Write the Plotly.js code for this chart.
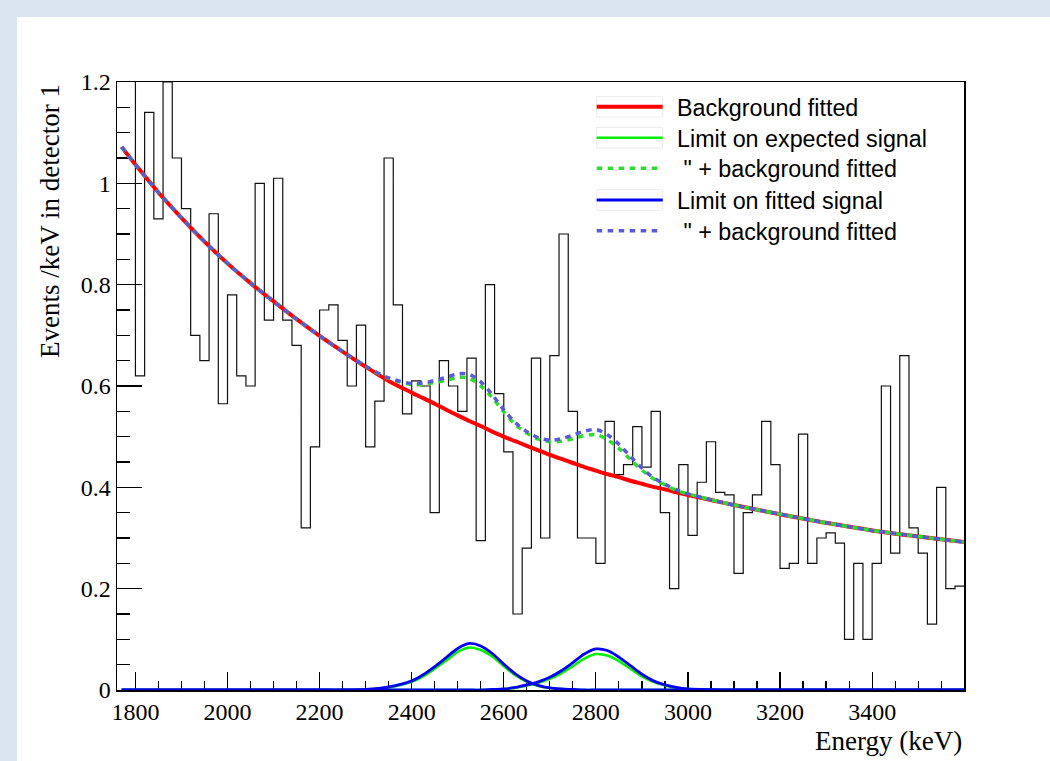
<!DOCTYPE html>
<html>
<head>
<meta charset="utf-8">
<script src="https://cdn.plot.ly/plotly-3.0.1.min.js"></script>
<style>
  html, body { margin: 0; padding: 0; width: 1050px; height: 761px; overflow: hidden; background: #dbe5f1; }
  #plot { position: absolute; left: 17px; top: 17px; width: 1033px; height: 744px; background: #ffffff; }
</style>
</head>
<body>
<div id="plot"></div>
<script>
// ---- measured spectrum: 20 keV bins starting at 1760 keV ----
const binLow = 1760;
const binWidth = 20;
const counts = [
  1.30, 1.25, 0.62, 1.14, 0.93, 1.20, 1.05, 0.95, 0.70, 0.65,
  0.94, 0.565, 0.78, 0.62, 0.60, 1.00, 0.73, 1.01, 0.73, 0.68,
  0.32, 0.48, 0.75, 0.76, 0.69, 0.60, 0.72, 0.48, 0.57, 1.05,
  0.76, 0.545, 0.61, 0.60, 0.35, 0.65, 0.60, 0.55, 0.655, 0.295,
  0.80, 0.585, 0.47, 0.15, 0.28, 0.655, 0.30, 0.66, 0.90, 0.55,
  0.30, 0.30, 0.25, 0.53, 0.425, 0.445, 0.52, 0.44, 0.55, 0.35,
  0.20, 0.445, 0.305, 0.41, 0.49, 0.39, 0.385, 0.23, 0.35, 0.385,
  0.53, 0.445, 0.24, 0.25, 0.505, 0.25, 0.30, 0.31, 0.29, 0.10,
  0.25, 0.10, 0.25, 0.60, 0.27, 0.66, 0.32, 0.27, 0.13, 0.40,
  0.20, 0.205
];

// ---- fitted curves, sampled in energy (keV) ----
const fitE = [
  1770, 1800, 1850, 1900, 1950, 2000, 2050, 2100, 2150, 2200,
  2250, 2300, 2350, 2400, 2425, 2450, 2475, 2500, 2525, 2550,
  2575, 2600, 2625, 2650, 2675, 2700, 2725, 2750, 2775, 2800,
  2825, 2850, 2875, 2900, 2925, 2950, 2975, 3000, 3050, 3100,
  3200, 3300, 3400, 3500, 3600
];
const bgFit = [
  1.072, 1.037, 0.982, 0.932, 0.885, 0.842, 0.803, 0.767, 0.732, 0.699,
  0.668, 0.638, 0.610, 0.587, 0.576, 0.565, 0.553, 0.542, 0.531, 0.521,
  0.510, 0.500, 0.491, 0.482, 0.473, 0.464, 0.456, 0.448, 0.440, 0.433,
  0.426, 0.420, 0.413, 0.407, 0.401, 0.396, 0.390, 0.385, 0.375, 0.365,
  0.347, 0.330, 0.315, 0.303, 0.292
];
// limit on expected signal, first and second peak
const expPeak1 = [
  0, 0, 0, 0, 0, 0, 0, 0, 0, 0,
  0, 0.001, 0.005, 0.016, 0.027, 0.042, 0.058, 0.075, 0.084, 0.079,
  0.066, 0.047, 0.029, 0.016, 0.008, 0.004, 0.002, 0.001, 0, 0,
  0, 0, 0, 0, 0, 0, 0, 0, 0, 0,
  0, 0, 0, 0, 0
];
const expPeak2 = [
  0, 0, 0, 0, 0, 0, 0, 0, 0, 0,
  0, 0, 0, 0, 0, 0, 0, 0, 0, 0,
  0.001, 0.002, 0.004, 0.009, 0.014, 0.022, 0.033, 0.047, 0.062, 0.071,
  0.068, 0.057, 0.042, 0.027, 0.016, 0.009, 0.004, 0.002, 0.0005, 0,
  0, 0, 0, 0, 0
];
// limit on fitted signal, first and second peak
const fitPeak1 = [
  0, 0, 0, 0, 0, 0, 0, 0, 0, 0,
  0, 0.001, 0.006, 0.018, 0.030, 0.046, 0.064, 0.082, 0.092, 0.087,
  0.072, 0.051, 0.032, 0.018, 0.009, 0.004, 0.002, 0.001, 0, 0,
  0, 0, 0, 0, 0, 0, 0, 0, 0, 0,
  0, 0, 0, 0, 0
];
const fitPeak2 = [
  0, 0, 0, 0, 0, 0, 0, 0, 0, 0,
  0, 0, 0, 0, 0, 0, 0, 0, 0, 0,
  0.001, 0.002, 0.005, 0.010, 0.016, 0.025, 0.038, 0.054, 0.071, 0.081,
  0.078, 0.065, 0.048, 0.031, 0.018, 0.010, 0.005, 0.002, 0.0005, 0,
  0, 0, 0, 0, 0
];
// expected signal + background
const expTotal = [
  1.072, 1.037, 0.982, 0.932, 0.885, 0.842, 0.803, 0.767, 0.732, 0.699,
  0.668, 0.639, 0.615, 0.603, 0.603, 0.607, 0.611, 0.617, 0.615, 0.600,
  0.577, 0.549, 0.524, 0.507, 0.495, 0.490, 0.491, 0.496, 0.502, 0.504,
  0.494, 0.477, 0.455, 0.434, 0.417, 0.405, 0.394, 0.387, 0.3755, 0.365,
  0.347, 0.330, 0.315, 0.303, 0.292
];
// fitted signal + background
const fitTotal = [
  1.072, 1.037, 0.982, 0.932, 0.885, 0.842, 0.803, 0.767, 0.732, 0.699,
  0.668, 0.639, 0.616, 0.605, 0.606, 0.611, 0.617, 0.624, 0.623, 0.608,
  0.583, 0.553, 0.528, 0.510, 0.498, 0.493, 0.496, 0.503, 0.511, 0.514,
  0.504, 0.485, 0.461, 0.438, 0.419, 0.406, 0.395, 0.387, 0.3755, 0.365,
  0.347, 0.330, 0.315, 0.303, 0.292
];

const legendLabels = [
  'Background fitted',
  'Limit on expected signal',
  '\u00a0" + background fitted',
  'Limit on fitted signal',
  '\u00a0" + background fitted'
];

// ---- styles ----
const RED = '#ff0000', GREEN = '#00f000', BLUE = '#0000ee';
const GREEN_DOT = '#2edc2e', BLUE_DOT = '#5a5ad8';
const DOTS = '5.5px,5.5px';
const legendStyles = [
  { color: RED, width: 4, dash: 'solid', boxed: true },
  { color: GREEN, width: 2.5, dash: 'solid', boxed: true },
  { color: GREEN_DOT, width: 3.5, dash: DOTS, boxed: false },
  { color: BLUE, width: 2.8, dash: 'solid', boxed: true },
  { color: BLUE_DOT, width: 3.5, dash: DOTS, boxed: false }
];

// histogram outline as a step line over the bin edges
const edges = counts.map((_, i) => binLow + i * binWidth);
edges.push(binLow + counts.length * binWidth);
const stepY = counts.concat([counts[counts.length - 1]]);

function curve(y, color, width, dash) {
  return {
    x: fitE, y: y, type: 'scatter', mode: 'lines', hoverinfo: 'skip',
    line: { color: color, width: width, dash: dash || 'solid', shape: 'spline', smoothing: 0.9 }
  };
}

const traces = [
  { x: edges, y: stepY, type: 'scatter', mode: 'lines', hoverinfo: 'skip',
    line: { color: '#111', width: 1.2, shape: 'hv' } },
  curve(bgFit, RED, 4),
  curve(expTotal, GREEN_DOT, 3.5, DOTS),
  curve(fitTotal, BLUE_DOT, 3.5, DOTS),
  curve(expPeak1, GREEN, 2.5),
  curve(expPeak2, GREEN, 2.5),
  curve(fitPeak1, BLUE, 2.8),
  curve(fitPeak2, BLUE, 2.8)
];

// ---- frame geometry (page pixels, div sits at 17,17) ----
const divX = 17, divY = 17;
const plotL = 117, plotT = 82, plotW = 847, plotH = 608;
const px = x => (x - plotL) / plotW;
const py = y => (plotT + plotH - y) / plotH;

// legend drawn with shapes + annotations
const rowY = [106.7, 137.7, 168.3, 200.0, 230.7];
const sampleX0 = 596.7, sampleX1 = 662.7, dotX1 = 658.3, textX = 674.5;
const shapes = [];
const annotations = [];
legendLabels.forEach((label, i) => {
  const s = legendStyles[i];
  if (s.boxed) {
    shapes.push({ type: 'rect', xref: 'paper', yref: 'paper',
      x0: px(sampleX0), x1: px(sampleX1), y0: py(rowY[i] - 10.3), y1: py(rowY[i] + 10.3),
      line: { color: '#ececec', width: 1 }, fillcolor: 'rgba(0,0,0,0)' });
  }
  shapes.push({ type: 'line', xref: 'paper', yref: 'paper',
    x0: px(sampleX0), x1: px(s.boxed ? sampleX1 : dotX1), y0: py(rowY[i]), y1: py(rowY[i]),
    line: { color: s.color, width: s.width, dash: s.dash } });
  annotations.push({ xref: 'paper', yref: 'paper', x: px(textX), y: py(rowY[i] + 1),
    xanchor: 'left', yanchor: 'middle', showarrow: false, text: label,
    font: { family: 'Liberation Sans, Arial, sans-serif', size: 23.3, color: '#000' } });
});

// axis titles, right/top aligned
annotations.push({ xref: 'paper', yref: 'paper', x: 1, y: py(741), xanchor: 'right', yanchor: 'middle',
  showarrow: false, text: 'Energy (keV)',
  font: { family: 'Liberation Serif, Times New Roman, serif', size: 27, color: '#000' } });
annotations.push({ xref: 'paper', yref: 'paper', x: px(50), y: 1, xanchor: 'center', yanchor: 'top',
  textangle: -90, showarrow: false, text: 'Events /keV in detector 1',
  font: { family: 'Liberation Serif, Times New Roman, serif', size: 27, color: '#000' } });

const tickFont = { family: 'Liberation Serif, Times New Roman, serif', size: 24, color: '#000' };
const layout = {
  width: 1033, height: 744,
  margin: { l: plotL - divX, r: 1033 - (plotL - divX) - plotW, t: plotT - divY, b: 744 - (plotT - divY) - plotH, pad: 0 },
  paper_bgcolor: '#ffffff', plot_bgcolor: '#ffffff',
  showlegend: false,
  xaxis: {
    range: [1760, 3599.5], tick0: 1800, dtick: 200,
    ticks: 'inside', ticklen: 18, tickwidth: 1.2, tickcolor: '#000',
    minor: { dtick: 50, ticks: 'inside', ticklen: 9, tickwidth: 1.2, tickcolor: '#000', showgrid: false },
    showgrid: false, zeroline: false, showline: true, mirror: true, linecolor: '#000', linewidth: 1.5,
    layer: 'below traces', tickfont: tickFont, fixedrange: true
  },
  yaxis: {
    range: [0, 1.2], tick0: 0, dtick: 0.2,
    ticks: 'inside', ticklen: 25, tickwidth: 1.2, tickcolor: '#000',
    minor: { dtick: 0.05, ticks: 'inside', ticklen: 12.5, tickwidth: 1.2, tickcolor: '#000', showgrid: false },
    showgrid: false, zeroline: false, showline: true, mirror: true, linecolor: '#000', linewidth: 1.5,
    layer: 'below traces', tickfont: tickFont, fixedrange: true
  },
  shapes: shapes,
  annotations: annotations
};

Plotly.newPlot('plot', traces, layout, { staticPlot: true, displayModeBar: false });
</script>
</body>
</html>
